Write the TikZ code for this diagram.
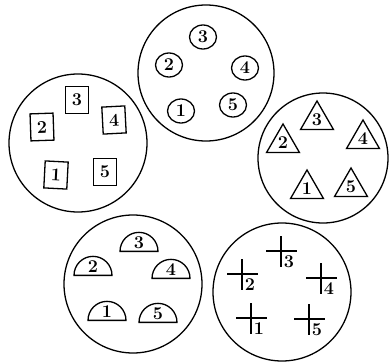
\documentclass[tikz,border=0pt]{standalone}
\usetikzlibrary{shapes.geometric}
\newcommand{\numfont}{\fontsize{18}{18}\selectfont\bfseries}
\begin{document}
\begin{tikzpicture}[x=1pt, y=-1pt, line width=1.3pt,
    disc/.style={ellipse, draw, minimum width=27pt, minimum height=24pt, inner sep=0pt, font=\numfont},
    box/.style={rectangle, draw, minimum width=23pt, minimum height=27pt, inner sep=0pt, font=\numfont},
    tri/.style={regular polygon, regular polygon sides=3, draw, minimum size=38pt, inner sep=0pt, font=\numfont},
    half/.style={semicircle, draw, minimum width=38pt, inner sep=0pt, anchor=chord center, font=\numfont}]
  \useasboundingbox (0,0) rectangle (389,362);
  \draw (206,73) circle[radius=68pt];
  \draw (78,143) circle[radius=69pt];
  \draw (323,158) circle[radius=65pt];
  \draw (133,284) circle[radius=69pt];
  \draw (282,292) circle[radius=69pt];
  \node[disc] (c1) at (181,111) {1};
  \node[disc] (c2) at (169,65) {2};
  \node[disc] (c3) at (203,37) {3};
  \node[disc] (c4) at (245,68) {4};
  \node[disc] (c5) at (233,105) {5};
  \node[box, rotate=-3] (q1) at (56,175) {1};
  \node[box, rotate=2] (q2) at (42,127) {2};
  \node[box] (q3) at (77,100) {3};
  \node[box, rotate=3] (q4) at (114,120) {4};
  \node[box] (q5) at (105,172) {5};
  \node[tri] (t1) at (307,189) {1};
  \node[tri] (t2) at (283,143) {2};
  \node[tri] (t3) at (317,120) {3};
  \node[tri] (t4) at (363,139) {4};
  \node[tri] (t5) at (351,187) {5};
  \node[half] (s1) at (107,321) {1};
  \node[half] (s2) at (93,276) {2};
  \node[half] (s3) at (139,252) {3};
  \node[half] (s4) at (171,279) {4};
  \node[half] (s5) at (158,323) {5};
  \foreach \x/\y/\n in {251/318/1, 242/274/2, 281/251/3, 321/278/4, 309/319/5} {
    \coordinate (x\n) at (\x,\y);
    \draw (x\n) ++(0,-15) -- ++(0,31);
    \draw (x\n) ++(-15,0) -- ++(31,0);
    \node[font=\numfont, inner sep=0pt] (n\n) at (\x+8,\y+11) {\n};
  }
\end{tikzpicture}
\end{document}
